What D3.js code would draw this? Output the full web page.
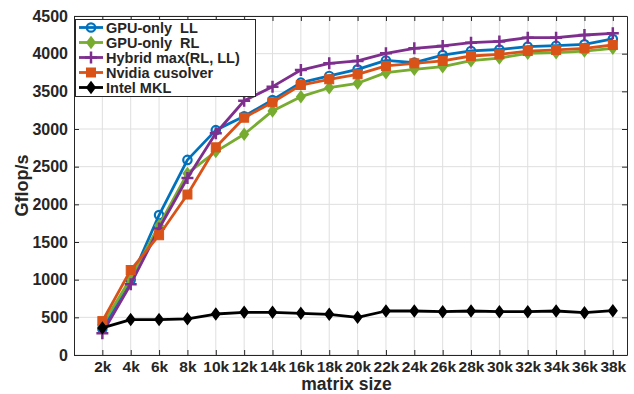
<!DOCTYPE html>
<html><head><meta charset="utf-8">
<script src="https://cdn.jsdelivr.net/npm/d3@7"></script>
<style>
html,body{margin:0;padding:0;background:#fff;}
svg text{font-family:"Liberation Sans",Arial,Helvetica,sans-serif;font-weight:bold;fill:#262626;white-space:pre;}
</style></head><body>
<svg id="chart" width="634" height="394"></svg>
<script>
const sizes = [2,4,6,8,10,12,14,16,18,20,22,24,26,28,30,32,34,36,38];
const tickLabels = sizes.map(d => d + "k");
const yTicks = [0,500,1000,1500,2000,2500,3000,3500,4000,4500];

const gpuLL   = [350,1000,1858,2590,2985,3170,3385,3615,3704,3792,3910,3881,3982,4036,4055,4093,4106,4124,4195];
const gpuRL   = [400,1020,1720,2410,2700,2930,3240,3429,3548,3607,3748,3792,3827,3907,3942,4005,4013,4035,4071];
const hybrid  = [290,940,1680,2350,2943,3375,3562,3783,3872,3903,4005,4071,4102,4146,4163,4212,4212,4248,4270];
const cusolver= [450,1128,1590,2130,2757,3150,3355,3584,3660,3726,3837,3872,3903,3969,3991,4035,4049,4071,4115];
const mkl     = [360,470,470,480,544,567,567,553,540,500,584,584,575,584,575,575,584,562,588];

const seriesNames = ["GPU-only  LL","GPU-only  RL","Hybrid max(RL, LL)","Nvidia cusolver","Intel MKL"];
const seriesData = [gpuLL, gpuRL, hybrid, cusolver, mkl];
const colors = ["#0072BD","#77AC30","#7E2F8E","#D95319","#000000"];
const markers = ["circle","diamond","plus","square","diamond"];

const L = 74, R = 627, T = 16, B = 355;
const svg = d3.select("#chart");
const x = d3.scaleLinear().domain([0,39]).range([L,R]);
const y = d3.scaleLinear().domain([0,4500]).range([B,T]);

// grid
const g = svg.append("g");
g.selectAll(".vg").data(sizes).enter().append("line")
  .attr("x1", d=>x(d)).attr("x2", d=>x(d)).attr("y1", T).attr("y2", B)
  .attr("stroke","#dfdfdf").attr("stroke-width",1);
g.selectAll(".hg").data(yTicks).enter().append("line")
  .attr("x1", L).attr("x2", R).attr("y1", d=>y(d)).attr("y2", d=>y(d))
  .attr("stroke","#dfdfdf").attr("stroke-width",1);

// axes
const axisColor = "#262626";
const xAxis = svg.append("g").attr("transform",`translate(0,${B})`)
  .call(d3.axisBottom(x).tickValues(sizes).tickFormat((d,i)=>tickLabels[i]).tickSizeInner(-5).tickSizeOuter(0).tickPadding(6));
const xTop = svg.append("g").attr("transform",`translate(0,${T})`)
  .call(d3.axisTop(x).tickValues(sizes).tickFormat("").tickSizeInner(-5).tickSizeOuter(0));
const yAxis = svg.append("g").attr("transform",`translate(${L},0)`)
  .call(d3.axisLeft(y).tickValues(yTicks).tickFormat(d3.format("d")).tickSizeInner(-5).tickSizeOuter(0).tickPadding(6));
const yRight = svg.append("g").attr("transform",`translate(${R},0)`)
  .call(d3.axisRight(y).tickValues(yTicks).tickFormat("").tickSizeInner(-5).tickSizeOuter(0));
[xAxis,xTop,yAxis,yRight].forEach(a=>{
  a.selectAll("path").attr("stroke",axisColor).attr("stroke-width",1);
  a.selectAll("line").attr("stroke",axisColor).attr("stroke-width",1);
  a.selectAll("text").attr("font-size",16).attr("fill",axisColor);
});
xAxis.selectAll("text").attr("dy","0.71em").attr("font-size",15.5);

// axis titles
svg.append("text").attr("x",(L+R)/2 - 4).attr("y",389.5).attr("text-anchor","middle")
  .attr("font-size",17.5).text("matrix size");
svg.append("text").attr("transform",`translate(22,${(T+B)/2}) rotate(-90)`).attr("text-anchor","middle")
  .attr("font-size",18).attr("dy","0.35em").text("Gflop/s");

function drawMarker(sel, type, color, cx, cy) {
  if (type==="circle") {
    sel.append("circle").attr("cx",cx).attr("cy",cy).attr("r",4.2)
      .attr("fill","none").attr("stroke",color).attr("stroke-width",2.2);
  } else if (type==="diamond") {
    const s = 5.5;
    sel.append("path").attr("d",`M${cx},${cy-s}L${cx+s*0.75},${cy}L${cx},${cy+s}L${cx-s*0.75},${cy}Z`)
      .attr("fill",color).attr("stroke",color).attr("stroke-width",1.5);
  } else if (type==="plus") {
    const s = 6;
    sel.append("path").attr("d",`M${cx-s},${cy}L${cx+s},${cy}M${cx},${cy-s}L${cx},${cy+s}`)
      .attr("stroke",color).attr("stroke-width",2.5).attr("fill","none");
  } else if (type==="square") {
    const s = 4.5;
    sel.append("rect").attr("x",cx-s).attr("y",cy-s).attr("width",2*s).attr("height",2*s)
      .attr("fill",color).attr("stroke",color).attr("stroke-width",1);
  }
}

const line = d3.line().x((d,i)=>x(sizes[i])).y(d=>y(d));
seriesData.forEach((data, k) => {
  const sg = svg.append("g");
  sg.append("path").datum(data).attr("d", line).attr("fill","none")
    .attr("stroke", colors[k]).attr("stroke-width", 2.8).attr("stroke-linejoin","round");
  data.forEach((v,i) => drawMarker(sg, markers[k], colors[k], x(sizes[i]), y(v)));
});

// legend
const lg = svg.append("g");
lg.append("rect").attr("x",75.5).attr("y",19.5).attr("width",180).attr("height",77)
  .attr("fill","#fff").attr("stroke",axisColor).attr("stroke-width",1);
const rowY = [27.5, 42.5, 57.5, 72.5, 87.5];
seriesNames.forEach((name,k)=>{
  lg.append("line").attr("x1",79).attr("x2",103).attr("y1",rowY[k]).attr("y2",rowY[k])
    .attr("stroke",colors[k]).attr("stroke-width",2.8);
  drawMarker(lg, markers[k], colors[k], 91, rowY[k]);
  lg.append("text").attr("x",106).attr("y",rowY[k]).attr("dy","0.36em")
    .attr("font-size",14.5).attr("fill","#000").attr("xml:space","preserve").text(name);
});
</script>
</body></html>
